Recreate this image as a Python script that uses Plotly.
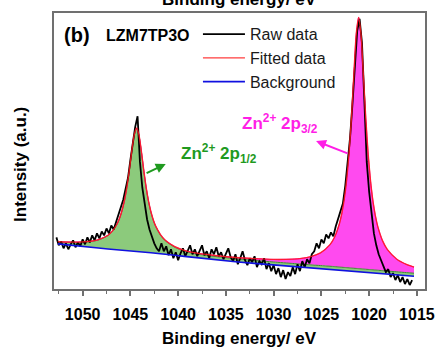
import numpy as np
import plotly.graph_objects as go

# ---------------- data ----------------
raw_start = 1052.75
raw_step = -0.25
raw_intensity = [
    52, 44, 48, 41, 46, 40, 45, 49, 42, 47, 43, 50, 45, 52, 47, 54, 49, 56, 51, 58, 54, 61, 56, 64,
    60, 68, 74, 84, 90, 101, 112, 130, 148, 163, 174, 128, 102, 84, 70, 60, 52, 46, 41, 38,
    46, 38, 43, 34, 40, 31, 37, 29, 36, 41, 33, 38, 44, 35, 40, 33, 39, 44, 34, 38, 31, 40,
    35, 42, 33, 37, 30, 36, 41, 32, 28, 35, 25, 31, 38, 29, 24, 31, 27, 33, 22, 28, 25, 31,
    20, 26, 18, 24, 15, 21, 12, 19, 10, 17, 13, 22, 15, 25, 18, 28, 22, 30, 26, 35,
    38, 46, 41, 50, 46, 55, 51, 57, 53, 63, 70, 77, 86, 104, 127, 152, 186, 226, 260, 272,
    248, 190, 128, 98, 74, 56, 44, 35, 29, 22, 17, 20, 12, 16, 9, 14, 7, 12, 5, 10, 4, 9,
]
raw_energy = np.round(raw_start + raw_step * np.arange(len(raw_intensity)), 2)

fit_energy = [
    1052.6, 1052.0, 1051.0, 1050.0, 1049.0, 1048.35, 1047.35, 1046.85, 1046.35, 1046.1,
    1045.85, 1045.6, 1045.35, 1045.1, 1044.85, 1044.6, 1044.35, 1044.1, 1043.85, 1043.6,
    1043.35, 1043.1, 1042.85, 1042.6, 1042.35, 1041.85, 1041.35, 1040.35, 1039.35, 1038.35,
    1036.35, 1034.0, 1032.0, 1030.0, 1028.0, 1027.1, 1026.1, 1025.1, 1024.1, 1023.6,
    1023.1, 1022.85, 1022.6, 1022.35, 1022.1, 1021.85, 1021.6, 1021.35, 1021.1, 1020.85,
    1020.6, 1020.35, 1020.1, 1019.85, 1019.6, 1019.35, 1019.1, 1018.6, 1018.1, 1017.1,
    1016.1, 1015.3,
]
background = [
    45.5, 45.0, 44.0, 43.0, 42.0, 41.3, 40.3, 39.8, 39.3, 39.1,
    38.9, 38.7, 38.5, 38.3, 38.1, 37.9, 37.7, 37.5, 37.3, 37.1,
    36.9, 36.7, 36.5, 36.3, 36.1, 35.6, 35.1, 34.0, 32.9, 31.8,
    29.7, 27.5, 25.8, 24.2, 22.7, 22.0, 21.3, 20.6, 19.9, 19.5,
    19.1, 18.9, 18.7, 18.5, 18.3, 18.1, 17.9, 17.7, 17.5, 17.3,
    17.1, 16.9, 16.7, 16.5, 16.3, 16.1, 15.9, 15.5, 15.1, 14.3,
    13.5, 12.9,
]
zn_2p12 = [
    2.0, 2.2, 3.0, 4.2, 6.0, 8.0, 13.5, 18.6, 26.8, 32.8,
    40.8, 51.3, 65.0, 82.0, 101.0, 117.0, 124.0, 117.0, 101.0, 82.0,
    65.0, 51.3, 40.8, 32.8, 26.8, 18.6, 13.5, 8.0, 5.2, 3.9,
    3.3, 3.0, 3.0, 3.0, 3.0, 3.0, 3.0, 3.0, 3.0, 3.0,
    3.0, 3.0, 3.0, 3.0, 3.0, 3.0, 3.0, 3.0, 3.0, 3.0,
    3.0, 3.0, 3.0, 3.0, 3.0, 3.0, 3.0, 3.0, 3.0, 3.0,
    3.0, 3.0,
]
zn_2p32 = [
    0.2, 0.2, 0.25, 0.25, 0.3, 0.35, 0.35, 0.4, 0.4, 0.4,
    0.4, 0.4, 0.4, 0.4, 0.45, 0.45, 0.45, 0.45, 0.45, 0.45,
    0.5, 0.5, 0.5, 0.5, 0.5, 0.6, 0.6, 0.7, 0.8, 0.9,
    1.0, 1.3, 1.8, 2.6, 4.4, 5.8, 8.3, 12.7, 21.8, 30.2,
    44.2, 54.8, 69.2, 88.9, 116.0, 152.0, 195.0, 236.0, 253.0, 236.0,
    195.0, 152.0, 116.0, 88.9, 69.2, 54.8, 44.2, 30.2, 21.8, 12.7,
    8.3, 6.2,
]
x_ticks = [1050, 1045, 1040, 1035, 1030, 1025, 1020, 1015]

# ---------------- derived curves ----------------
bg = np.array(background)
g = np.array(zn_2p12)
p = np.array(zn_2p32)
green_top = bg + g
envelope = bg + g + p

FONT = "Liberation Sans, Arial, Helvetica, sans-serif"

fig = go.Figure()

# green component fill
fig.add_trace(go.Scatter(x=fit_energy, y=bg, mode="lines", line=dict(width=0, color="rgba(0,0,0,0)"),
                         showlegend=False, hoverinfo="skip"))
fig.add_trace(go.Scatter(x=fit_energy, y=green_top, mode="lines", fill="tonexty",
                         fillcolor="#8cca7c", line=dict(width=1, color="#3c8c2c", shape="spline", smoothing=0.6),
                         showlegend=False, hoverinfo="skip"))
# pink component fill stacked on green
fig.add_trace(go.Scatter(x=fit_energy, y=envelope, mode="lines", fill="tonexty",
                         fillcolor="#ff4aef", line=dict(width=1, color="#ff00d0", shape="spline", smoothing=0.6),
                         showlegend=False, hoverinfo="skip"))
# raw data
fig.add_trace(go.Scatter(x=raw_energy, y=raw_intensity, mode="lines", name="Raw data",
                         line=dict(color="black", width=1.8), legendrank=1))
# background
fig.add_trace(go.Scatter(x=fit_energy, y=bg, mode="lines", name="Background",
                         line=dict(color="#1010e0", width=1.6), legendrank=3))
# fitted envelope
fig.add_trace(go.Scatter(x=fit_energy, y=envelope, mode="lines", name="Fitted data",
                         line=dict(color="#ff1a1a", width=1.4, shape="spline", smoothing=0.6),
                         opacity=0.85, legendrank=2))

# labels
fig.add_annotation(x=1039.9, y=136, xref="x", yref="y", xanchor="left", yanchor="middle",
                   text="<b>Zn<sup>2+</sup> 2p<sub>1/2</sub></b>", showarrow=False,
                   font=dict(family=FONT, size=17, color="#1f9a1f"))
fig.add_annotation(x=1041.3, y=126, ax=1043.46, ay=116, xref="x", yref="y", axref="x", ayref="y",
                   text=" ", showarrow=True, arrowhead=2, arrowsize=1, arrowwidth=2, arrowcolor="#1f9a1f",
                   font=dict(size=1))

fig.add_annotation(x=1033.5, y=167, xref="x", yref="y", xanchor="left", yanchor="middle",
                   text="<b>Zn<sup>2+</sup> 2p<sub>3/2</sub></b>", showarrow=False,
                   font=dict(family=FONT, size=17, color="#ff1ee6"))
fig.add_annotation(x=1025.56, y=149, ax=1022.1, ay=136, xref="x", yref="y", axref="x", ayref="y",
                   text=" ", showarrow=True, arrowhead=2, arrowsize=1, arrowwidth=2, arrowcolor="#ff1ee6",
                   font=dict(size=1))

fig.add_annotation(x=0.022, y=0.92, xref="paper", yref="paper", xanchor="left", yanchor="middle",
                   text="<b>(b)</b>", showarrow=False, font=dict(family=FONT, size=20, color="black"))
fig.add_annotation(x=0.136, y=0.918, xref="paper", yref="paper", xanchor="left", yanchor="middle",
                   text="<b>LZM7TP3O</b>", showarrow=False, font=dict(family=FONT, size=16, color="black"))

fig.add_annotation(x=-0.089, y=0.453, xref="paper", yref="paper", xanchor="center", yanchor="middle",
                   text="<b>Intensity (a.u.)</b>", textangle=-90, showarrow=False,
                   font=dict(family=FONT, size=17, color="black"))
# x-axis title (placed explicitly so it sits as low as in the original)
fig.add_annotation(x=0.501, y=-0.178, xref="paper", yref="paper", xanchor="center", yanchor="middle",
                   text="<b>Binding energy/ eV</b>", showarrow=False,
                   font=dict(family=FONT, size=17, color="black"))
# cropped top-axis title of the original figure
fig.add_annotation(x=0.501, y=1.008, xref="paper", yref="paper", xanchor="center", yanchor="bottom",
                   text="<b>Binding energy/ eV</b>", showarrow=False,
                   font=dict(family=FONT, size=17, color="black"))

fig.update_layout(
    width=446, height=349,
    margin=dict(l=54, r=11, t=11, b=60),
    paper_bgcolor="white", plot_bgcolor="white",
    font=dict(family=FONT, color="black"),
    legend=dict(x=0.388, y=0.985, xanchor="left", yanchor="top", bgcolor="rgba(0,0,0,0)",
                traceorder="normal",
                font=dict(family=FONT, size=16, color="#1a1a1a"), itemwidth=42,
                tracegroupgap=0),
)
fig.update_xaxes(
    range=[1053, 1014.15], tickmode="array", tickvals=x_ticks, ticktext=[str(t) for t in x_ticks],
    showline=True, mirror=True, linecolor="#707070", linewidth=1.5,
    ticks="outside", ticklen=5, tickwidth=1.5, tickcolor="#707070",
    minor=dict(dtick=2.5, tick0=1050, ticks="outside", ticklen=3, tickwidth=1.2, tickcolor="#707070"),
    showgrid=False, zeroline=False, ticklabelstandoff=5,
    tickfont=dict(family=FONT, size=16, color="black", weight="bold"),
)
fig.update_yaxes(
    range=[0, 278], showline=True, mirror=True, linecolor="#707070", linewidth=1.5,
    showticklabels=False, ticks="", showgrid=False, zeroline=False,
)

fig.write_html("out.html")
